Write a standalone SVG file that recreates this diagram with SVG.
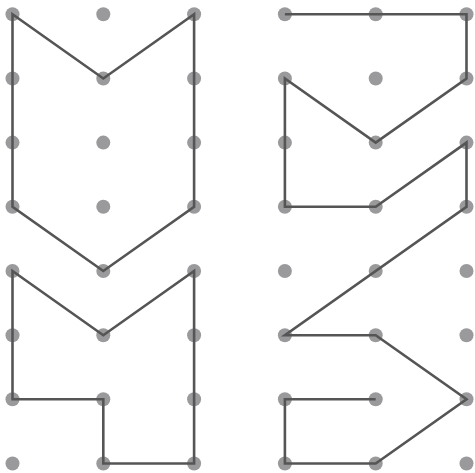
<svg xmlns="http://www.w3.org/2000/svg" width="475" height="473" viewBox="0 0 475 473">
<style>
.d{fill:#9a9a9c}
.l{fill:none;stroke:#555555;stroke-width:2.6;stroke-linejoin:miter}
</style>
<rect width="475" height="473" fill="#ffffff"/>
<g id="dots">
<g id="c0"><circle class="d" cx="12.5" cy="14.3" r="7"/><circle class="d" cx="12.5" cy="78.5" r="7"/><circle class="d" cx="12.5" cy="142.6" r="7"/><circle class="d" cx="12.5" cy="206.8" r="7"/><circle class="d" cx="12.5" cy="271" r="7"/><circle class="d" cx="12.5" cy="335.2" r="7"/><circle class="d" cx="12.5" cy="399.3" r="7"/><circle class="d" cx="12.5" cy="463.5" r="7"/></g>
<g id="c1"><circle class="d" cx="103.3" cy="14.3" r="7"/><circle class="d" cx="103.3" cy="78.5" r="7"/><circle class="d" cx="103.3" cy="142.6" r="7"/><circle class="d" cx="103.3" cy="206.8" r="7"/><circle class="d" cx="103.3" cy="271" r="7"/><circle class="d" cx="103.3" cy="335.2" r="7"/><circle class="d" cx="103.3" cy="399.3" r="7"/><circle class="d" cx="103.3" cy="463.5" r="7"/></g>
<g id="c2"><circle class="d" cx="194.1" cy="14.3" r="7"/><circle class="d" cx="194.1" cy="78.5" r="7"/><circle class="d" cx="194.1" cy="142.6" r="7"/><circle class="d" cx="194.1" cy="206.8" r="7"/><circle class="d" cx="194.1" cy="271" r="7"/><circle class="d" cx="194.1" cy="335.2" r="7"/><circle class="d" cx="194.1" cy="399.3" r="7"/><circle class="d" cx="194.1" cy="463.5" r="7"/></g>
<g id="c3"><circle class="d" cx="284.9" cy="14.3" r="7"/><circle class="d" cx="284.9" cy="78.5" r="7"/><circle class="d" cx="284.9" cy="142.6" r="7"/><circle class="d" cx="284.9" cy="206.8" r="7"/><circle class="d" cx="284.9" cy="271" r="7"/><circle class="d" cx="284.9" cy="335.2" r="7"/><circle class="d" cx="284.9" cy="399.3" r="7"/><circle class="d" cx="284.9" cy="463.5" r="7"/></g>
<g id="c4"><circle class="d" cx="375.7" cy="14.3" r="7"/><circle class="d" cx="375.7" cy="78.5" r="7"/><circle class="d" cx="375.7" cy="142.6" r="7"/><circle class="d" cx="375.7" cy="206.8" r="7"/><circle class="d" cx="375.7" cy="271" r="7"/><circle class="d" cx="375.7" cy="335.2" r="7"/><circle class="d" cx="375.7" cy="399.3" r="7"/><circle class="d" cx="375.7" cy="463.5" r="7"/></g>
<g id="c5"><circle class="d" cx="466.5" cy="14.3" r="7"/><circle class="d" cx="466.5" cy="78.5" r="7"/><circle class="d" cx="466.5" cy="142.6" r="7"/><circle class="d" cx="466.5" cy="206.8" r="7"/><circle class="d" cx="466.5" cy="271" r="7"/><circle class="d" cx="466.5" cy="335.2" r="7"/><circle class="d" cx="466.5" cy="399.3" r="7"/><circle class="d" cx="466.5" cy="463.5" r="7"/></g>
</g>
<g id="lines">
<polygon class="l" points="12.5,14.3 103.3,78.5 194.1,14.3 194.1,206.8 103.3,271 12.5,206.8"/>
<polygon class="l" points="12.5,271 103.3,335.2 194.1,271 194.1,463.5 103.3,463.5 103.3,399.3 12.5,399.3"/>
<polyline class="l" points="284.9,14.3 466.5,14.3 466.5,78.5 375.7,142.6 284.9,78.5 284.9,206.8 375.7,206.8 466.5,142.6 466.5,206.8 284.9,335.2 375.7,335.2 466.5,399.3 375.7,463.5 284.9,463.5 284.9,399.3 375.7,399.3"/>
</g>
</svg>
